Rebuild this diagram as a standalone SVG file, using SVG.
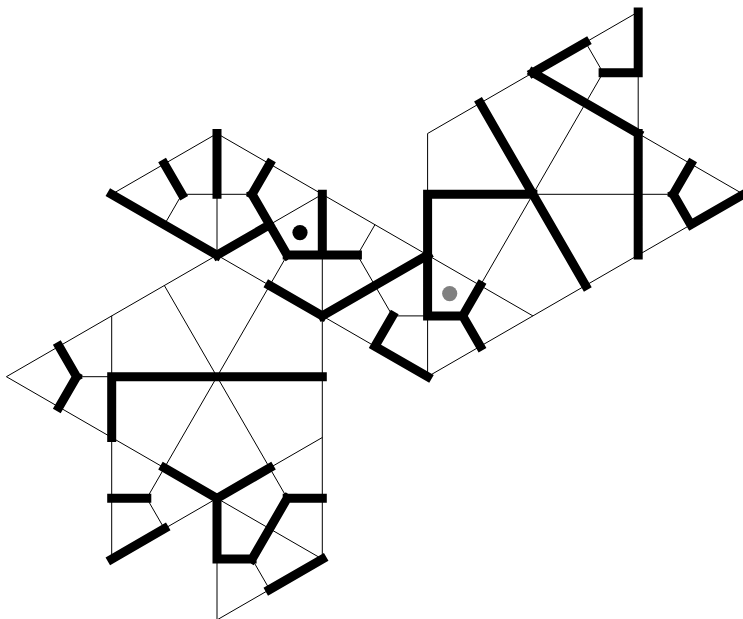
<svg xmlns="http://www.w3.org/2000/svg" width="743" height="619" viewBox="0 0 743 619">
<style>
.thin{fill:none;stroke:#000;stroke-width:1}
.thick{fill:none;stroke:#000;stroke-width:9;stroke-linecap:square}
</style>
<rect width="743" height="619" fill="#fff"/>
<g id="connectors">
<path class="thin" d="M217 133.5L111.7 194.3M217 133.5L427.6 255.1M181.9 194.3H252.1M181.9 194.3L164.35 224.7M217 194.3V255.1M269.65 224.7L322.3 194.3M217 255.1L6.4 376.7L217 498.3L322.3 559.1M217 255.1L322.3 315.9L427.6 376.7M287.2 255.1L269.65 285.5M322.3 255.1V559.1M357.4 255.1L374.95 224.7M357.4 255.1L392.5 315.9H427.6M111.7 315.9V559.1M164.35 285.5L287.2 498.3M269.65 285.5L146.8 498.3L164.35 528.7L217 498.3M269.65 467.9L322.3 437.5M76.6 376.7H111.7M252.1 559.1L269.65 589.5L217 619.9V559.1M427.6 133.5V376.7L638.2 255.1M427.6 255.1L532.9 315.9M480.25 285.5L603.1 72.7L585.55 42.3L638.2 11.9M638.2 72.7V133.5M532.9 72.7L427.6 133.5M532.9 194.3H673.3M638.2 133.5L743.5 194.3M638.2 255.1L690.85 224.7"/>
<path class="thick" d="M111.7 194.3L217 255.1M217 255.1L269.65 224.7M217 133.5V194.3M164.35 163.9L181.9 194.3M269.65 163.9L252.1 194.3M252.1 194.3L287.2 255.1M287.2 255.1H357.4M322.3 194.3V255.1M269.65 285.5L322.3 315.9M322.3 315.9L427.6 255.1M392.5 315.9L374.95 346.3M374.95 346.3L427.6 376.7"/>
<path class="thick" d="M59.05 346.3L76.6 376.7M76.6 376.7L59.05 407.1M111.7 376.7H322.3M111.7 376.7V437.5M164.35 467.9L217 498.3M217 498.3L269.65 467.9M217 498.3V559.1M217 559.1H252.1M252.1 559.1L287.2 498.3M287.2 498.3H322.3M111.7 498.3H146.8M111.7 559.1L164.35 528.7M269.65 589.5L322.3 559.1"/>
<path class="thick" d="M427.6 194.3V315.9M427.6 194.3H532.9M427.6 315.9H462.7M462.7 315.9L480.25 285.5M462.7 315.9L480.25 346.3M480.25 103.1L585.55 285.5M603.1 72.7H638.2M638.2 11.9V72.7M585.55 42.3L532.9 72.7M532.9 72.7L638.2 133.5M638.2 133.5V255.1M690.85 163.9L673.3 194.3M673.3 194.3L690.85 224.7M690.85 224.7L743.5 194.3"/>
</g>
<g id="node-black"><circle cx="300" cy="232.6" r="7.6" fill="#000"/></g>
<g id="node-grey"><circle cx="449.7" cy="293.6" r="7.6" fill="#808080"/></g>
</svg>
